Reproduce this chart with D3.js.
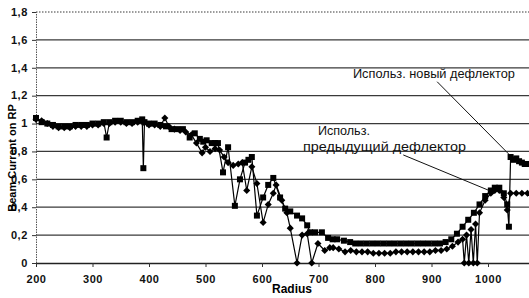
<!DOCTYPE html>
<html>
<head>
<meta charset="utf-8">
<script src="https://cdn.jsdelivr.net/npm/d3@7"></script>
<style>
  body { margin: 0; background: #fff; }
  svg { display: block; font-family: "Liberation Sans", Arial, sans-serif; }
  .series { fill: none; stroke: #000; stroke-width: 1.2; }
  .grid line { stroke: #3a3a3a; stroke-width: 1.2; }
  .tick-lbl { font-size: 11px; font-weight: bold; fill: #111; letter-spacing: 0.6px; }
  .note { font-size: 13px; fill: #111; }
</style>
</head>
<body>
<div id="chartDiv"></div>
<script>
'use strict';

// new deflector (squares)
const radiusNew = [200,210,220,230,240,250,260,270,280,290,300,310,320,325,330,340,350,360,370,380,
  388,390,392,400,410,420,430,440,450,460,472,481,490,496,502,511,517,522,531,540,552,561,570,576,582,
  591,602,611,620,632,641,650,662,671,680,685,694,706,717,725,733,745,756,765,775,785,795,805,815,825,
  835,845,855,865,875,885,895,905,915,925,935,945,955,965,975,985,995,1005,1012,1020,1028,1034,1037,
  1040,1045,1050,1055,1060,1065,1070];
const beamNew = [1.04,1.01,1.00,0.99,0.98,0.98,0.98,0.99,0.99,0.99,1.00,1.00,1.01,0.90,1.01,1.02,1.02,1.01,1.01,1.02,
  1.03,0.68,1.01,1.00,1.00,0.99,0.98,0.96,0.96,0.96,0.90,0.93,0.89,0.87,0.88,0.86,0.86,0.86,0.65,0.83,0.41,0.60,0.72,0.74,0.76,
  0.34,0.47,0.56,0.61,0.47,0.39,0.37,0.34,0.32,0.27,0.22,0.22,0.22,0.18,0.17,0.17,0.16,0.15,0.14,0.14,0.14,0.14,0.14,0.14,0.14,
  0.14,0.14,0.14,0.14,0.14,0.14,0.14,0.14,0.14,0.15,0.17,0.21,0.26,0.31,0.36,0.42,0.48,0.52,0.54,0.54,0.50,0.42,0.26,
  0.76,0.74,0.75,0.73,0.72,0.71,0.71];

// previous deflector (diamonds)
const radiusPrev = [200,210,220,230,240,250,260,270,280,290,300,310,320,330,340,350,360,370,380,390,
  400,410,420,428,435,445,455,465,475,484,494,500,508,517,525,533,540,549,558,565,573,582,591,602,611,
  620,625,635,644,650,662,671,680,688,699,711,720,726,736,747,757,767,777,787,797,807,817,827,837,847,
  857,867,877,887,897,907,917,927,937,947,955,958,962,966,970,974,978,981,985,995,1005,1012,1020,1028,
  1034,1040,1050,1060,1070];
const beamPrev = [1.03,1.02,1.00,0.98,0.97,0.97,0.97,0.98,0.98,0.98,0.99,0.99,1.00,1.00,1.01,1.01,1.00,1.00,1.01,1.01,
  0.99,0.99,0.98,1.04,0.98,0.96,0.95,0.94,0.92,0.86,0.79,0.83,0.80,0.82,0.81,0.76,0.72,0.70,0.71,0.72,0.52,0.69,0.57,0.29,0.42,
  0.50,0.56,0.45,0.36,0.25,0.00,0.20,0.21,0.00,0.14,0.09,0.11,0.11,0.10,0.08,0.09,0.08,0.08,0.08,0.07,0.07,0.07,0.07,0.08,0.08,
  0.08,0.08,0.08,0.08,0.08,0.09,0.09,0.10,0.12,0.15,0.17,0.00,0.20,0.00,0.24,0.00,0.28,0.00,0.36,0.45,0.50,0.52,0.52,0.47,
  0.38,0.50,0.50,0.50,0.50];

const xTicks = [200,300,400,500,600,700,800,900,1000];
const yTicks = [0,0.2,0.4,0.6,0.8,1,1.2,1.4,1.6,1.8];
const yTickLabels = ['0','0,2','0,4','0,6','0,8','1','1,2','1,4','1,6','1,8'];

const X_TITLE = 'Radius';
const Y_TITLE = 'Beam Current on RP';
const NOTE_NEW = ['Использ. новый дефлектор'];
const NOTE_PREV = ['Использ.', 'предыдущий дефлектор'];

const W = 529, H = 298;
const margin = { top: 12, right: 0, bottom: 35, left: 36 };
const plotH = H - margin.top - margin.bottom;

const xScale = d3.scaleLinear().domain([200, 1100]).range([margin.left, margin.left + 900 * 0.565]);
const yScale = d3.scaleLinear().domain([0, 1.8]).range([margin.top + plotH, margin.top]);

const svg = d3.select('#chartDiv').append('svg')
  .attr('width', W).attr('height', H);

// horizontal grid
const grid = svg.append('g').attr('class', 'grid');
grid.selectAll('line')
  .data(yTicks.filter(d => d > 0))
  .join('line')
  .attr('x1', xScale(200)).attr('x2', W)
  .attr('y1', d => yScale(d)).attr('y2', d => yScale(d))
  .attr('stroke-dasharray', d => d === 1.8 ? '1.5,1.5' : null);

// y axis
const yAxis = svg.append('g')
  .attr('transform', `translate(${xScale(200)},0)`)
  .call(d3.axisLeft(yScale).tickValues(yTicks).tickSize(4).tickFormat((d, i) => yTickLabels[i]));
yAxis.select('.domain').attr('stroke', '#555').attr('stroke-dasharray', '1.5,1');
yAxis.selectAll('.tick line').attr('stroke', '#333');
yAxis.selectAll('.tick text').attr('class', 'tick-lbl').attr('x', -8).attr('dy', '0.3em');

// x axis
const xAxis = svg.append('g')
  .attr('transform', `translate(0,${yScale(0)})`)
  .call(d3.axisBottom(xScale).tickValues(xTicks).tickSize(4).tickSizeOuter(0).tickFormat(d3.format('d')));
xAxis.select('.domain').attr('stroke', '#222').attr('stroke-width', 1.3);
xAxis.selectAll('.tick line').attr('stroke', '#333');
xAxis.selectAll('.tick text').attr('class', 'tick-lbl').attr('y', 12).attr('dy', '0.71em');

// series
const toPts = (rs, vs) => rs.map((r, i) => ({ r: r, v: vs[i] }));
const ptsNew = toPts(radiusNew, beamNew);
const ptsPrev = toPts(radiusPrev, beamPrev);

const line = d3.line().x(d => xScale(d.r)).y(d => yScale(d.v));

svg.append('path').datum(ptsPrev).attr('class', 'series').attr('d', line);
svg.append('path').datum(ptsNew).attr('class', 'series').attr('d', line);

svg.append('g').selectAll('path')
  .data(ptsPrev)
  .join('path')
  .attr('transform', d => `translate(${xScale(d.r)},${yScale(d.v)})`)
  .attr('d', d3.symbol(d3.symbolDiamond2, 32))
  .attr('fill', '#000');

svg.append('g').selectAll('rect')
  .data(ptsNew)
  .join('rect')
  .attr('x', d => xScale(d.r) - 3)
  .attr('y', d => yScale(d.v) - 3)
  .attr('width', 6).attr('height', 6)
  .attr('fill', '#000');

// annotations
const notes = [
  { lines: NOTE_NEW, widths: [162], at: [761, 1.33], from: [910, 1.30], to: [1037, 0.78] },
  { lines: NOTE_PREV, widths: [52, 163], at: [699, 0.915], from: [850, 0.775], to: [1002, 0.52] }
];
notes.forEach((n, k) => {
  svg.append('line')
    .attr('x1', xScale(n.from[0])).attr('y1', yScale(n.from[1]))
    .attr('x2', xScale(n.to[0])).attr('y2', yScale(n.to[1]))
    .attr('stroke', '#111').attr('stroke-width', 1);
  n.lines.forEach((t, j) => {
    svg.append('text')
      .attr('class', 'note')
      .attr('x', xScale(n.at[0]) - (k === 1 && j === 1 ? 15 : 0))
      .attr('y', yScale(n.at[1]) + j * 16)
      .attr('textLength', n.widths[j])
      .attr('lengthAdjust', 'spacingAndGlyphs')
      .text(t);
  });
});

// axis titles
svg.append('text')
  .attr('x', 292).attr('y', 293)
  .attr('text-anchor', 'middle')
  .style('font-size', '12px').style('font-weight', 'bold')
  .text(X_TITLE);

svg.append('text')
  .attr('transform', 'translate(16,158) rotate(-90)')
  .attr('text-anchor', 'middle')
  .style('font-size', '11px').style('font-weight', 'bold')
  .text(Y_TITLE);
</script>
</body>
</html>
